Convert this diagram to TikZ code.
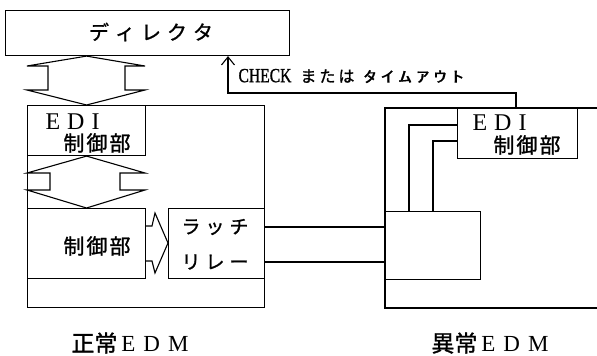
\documentclass[tikz,border=0pt]{standalone}
\usepackage{fontspec}
\setmainfont{Liberation Serif}
\newfontfamily\cjk[FakeBold=1.2]{Noto Sans CJK JP}
\newfontfamily\cjkthin{Noto Sans CJK JP}
\newfontfamily\condserif[FakeStretch=0.78,FakeBold=1]{Liberation Serif}
\newfontfamily\cjkwide[FakeStretch=1.8,FakeBold=1]{Noto Sans CJK JP}
\usetikzlibrary{arrows.meta}
\begin{document}
\begin{tikzpicture}[x=1pt,y=-1pt,line width=1.1pt,
  box/.style={draw,rectangle,inner sep=0pt,anchor=north west},
  txt/.style={inner sep=0pt},
  jp/.style={txt,font=\cjk\fontsize{21}{21}\selectfont},
  arr/.style={-{Straight Barb[length=8pt,width=13pt,line width=1.1pt]}}]
\useasboundingbox (0,0) rectangle (597,356);
% boxes
\node[box,minimum width=284,minimum height=45] (dir) at (5,10) {};
\node[box,minimum width=237,minimum height=202] (edmL) at (27,105) {};
\node[box,minimum width=118,minimum height=50] (ediL) at (27,105) {};
\node[box,minimum width=118,minimum height=70] (ctlL) at (27,208) {};
\node[box,minimum width=96,minimum height=70] (latch) at (168,208) {};
\node[box,minimum width=120,minimum height=50] (ediR) at (457,108) {};
\node[box,minimum width=95,minimum height=68] (smallR) at (385,211) {};
% right EDM (open to the right)
\coordinate (rTR) at (597,108);
\coordinate (rTL) at (385,108);
\coordinate (rBL) at (385,308);
\coordinate (rBR) at (597,308);
\draw (rTR) -- (rTL) -- (rBL) -- (rBR);
% texts
\node[txt,font=\cjk\fontsize{20}{20}\selectfont] (dirT) at (151,32) {デ\hspace{6pt}ィ\hspace{6pt}レ\hspace{6pt}ク\hspace{6pt}タ};
\node[txt,font=\fontsize{24}{24}\selectfont,anchor=west] (ediLT) at (45,122) {E\hspace{7pt}D\hspace{7pt}I};
\node[jp] (ediLC) at (97,143) {制\hspace{2pt}御\hspace{2pt}部};
\node[jp] (ctlLT) at (97,246) {制\hspace{2pt}御\hspace{2pt}部};
\node[txt,font=\cjk\fontsize{19}{19}\selectfont] (latT1) at (215,227) {ラ\hspace{5pt}ッ\hspace{5pt}チ};
\node[txt,font=\cjk\fontsize{19}{19}\selectfont] (latT2) at (215,262) {リ\hspace{5pt}レ\hspace{5pt}ー};
\node[txt,font=\fontsize{24}{24}\selectfont,anchor=west] (ediRT) at (472,123) {E\hspace{7pt}D\hspace{7pt}I};
\node[jp] (ediRC) at (527,145) {制\hspace{2pt}御\hspace{2pt}部};
\node[txt,anchor=west] (chkT) at (238,76) {{\condserif\fontsize{20}{20}\selectfont CHECK}\hspace{9pt}{\cjk\fontsize{16}{16}\selectfont ま\hspace{3pt}た\hspace{3pt}は}\hspace{9pt}{\cjkwide\fontsize{15}{15}\selectfont ﾀ\hspace{4pt}ｲ\hspace{4pt}ﾑ\hspace{4pt}ｱ\hspace{4pt}ｳ\hspace{4pt}ﾄ}};
\node[txt,font=\fontsize{23}{23}\selectfont] (lblL) at (130,343) {{\cjk 正常}\hspace{4pt}E\hspace{8pt}D\hspace{8pt}M};
\node[txt,font=\fontsize{23}{23}\selectfont] (lblR) at (490,343) {{\cjk 異常}\hspace{4pt}E\hspace{8pt}D\hspace{8pt}M};
% double arrow director <-> EDI
\draw[line join=miter] (ediL.north |- dir.south) -- (27,66) -- (48,66) -- (48,90) -- (27,90) -- (ediL.north) -- (145,90) -- (125,90) -- (125,66) -- (145,66) -- cycle;
% double arrow EDI <-> control
\draw[line join=miter] (ediL.south) -- (27,173) -- (50,173) -- (50,190) -- (27,190) -- (ctlL.north) -- (145,190) -- (120,190) -- (120,173) -- (145,173) -- cycle;
% fat arrow control -> latch
\draw[line join=miter] (ctlL.east |- 0,226) -- (152,226) -- (155,213) -- (latch.west |- 0,243) -- (155,273) -- (152,261) -- (ctlL.east |- 0,261);
% latch -> abnormal EDM
\draw (latch.east |- 0,227) -- (smallR.west |- 0,227);
\draw (latch.east |- 0,262) -- (smallR.west |- 0,262);
% abnormal EDI -> small box
\draw (ediR.west |- 0,125) -| (smallR.north -| 409,0);
\draw (ediR.west |- 0,141) -| (smallR.north -| 433,0);
% CHECK / timeout arrow
\coordinate (chkA) at (516,108);
\coordinate (chkB) at (228,93);
\draw[arr] (chkA) |- (chkB) -- (chkB |- dir.south);
\end{tikzpicture}
\end{document}
